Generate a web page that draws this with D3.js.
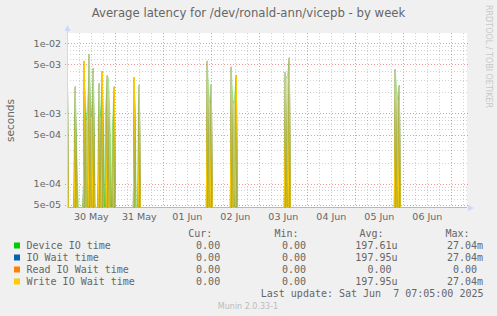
<!DOCTYPE html>
<html>
<head>
<meta charset="utf-8">
<script src="https://cdn.jsdelivr.net/npm/d3@7"></script>
<style>
  html, body { margin: 0; padding: 0; background: #f0f0f0; }
  svg { display: block; }
  text.pre { white-space: pre; }
</style>
</head>
<body>
<div id="chart"></div>
<script>
// Legend rows.
const seriesNames = ["Device IO time", "IO Wait time", "Read IO Wait time", "Write IO Wait time"];
const seriesColors = ["#00cc00", "#0066b3", "#ff8000", "#ffcc00"];
const curValues = [0, 0, 0, 0];
const minValues = [0, 0, 0, 0];
const avgValues = [197.61e-6, 197.95e-6, 0, 197.95e-6];
const maxValues = [27.04e-3, 27.04e-3, 0, 27.04e-3];

// 30 minute averages in seconds. Samples that are not listed are 0.
const writeWaitTimes = [
  "2025-05-30T00:00", "2025-05-30T04:00", "2025-05-30T08:30", "2025-05-30T11:00",
  "2025-05-30T13:00", "2025-05-30T16:00", "2025-05-30T17:30", "2025-05-30T20:00",
  "2025-05-30T23:30", "2025-05-31T09:30", "2025-05-31T12:00", "2025-06-01T22:00",
  "2025-06-02T00:00", "2025-06-02T10:00", "2025-06-02T12:30", "2025-06-03T13:00",
  "2025-06-03T15:00", "2025-06-05T20:00", "2025-06-05T22:00"
];
const writeWaitValues = [
  5.8e-3, 2.4e-3, 5.6e-3, 7.0e-3,
  4.4e-3, 2.7e-3, 4.0e-3, 3.45e-3,
  2.4e-3, 3.3e-3, 2.55e-3, 5.6e-3,
  2.6e-3, 4.6e-3, 3.5e-3, 3.9e-3,
  6.2e-3, 4.3e-3, 2.5e-3
];
const readWaitTimes = [];
const readWaitValues = [];

const deviceTimes = [
  "2025-05-30T00:00", "2025-05-30T03:30", "2025-05-30T04:00", "2025-05-30T04:30",
  "2025-05-30T05:00", "2025-05-30T08:00",
  "2025-05-30T08:30", "2025-05-30T09:00", "2025-05-30T09:30", "2025-05-30T10:00",
  "2025-05-30T10:30", "2025-05-30T11:00", "2025-05-30T11:30", "2025-05-30T12:00",
  "2025-05-30T12:30", "2025-05-30T13:00", "2025-05-30T13:30",
  "2025-05-30T15:30", "2025-05-30T16:00",
  "2025-05-30T16:30", "2025-05-30T17:00", "2025-05-30T17:30", "2025-05-30T18:00",
  "2025-05-30T19:00", "2025-05-30T19:30", "2025-05-30T20:00",
  "2025-05-30T20:30", "2025-05-30T21:00", "2025-05-30T21:30",
  "2025-05-30T22:30", "2025-05-30T23:00", "2025-05-30T23:30",
  "2025-05-31T09:30", "2025-05-31T10:00", "2025-05-31T11:30", "2025-05-31T12:00",
  "2025-06-01T22:00", "2025-06-01T22:30", "2025-06-01T23:00", "2025-06-01T23:30",
  "2025-06-02T00:00",
  "2025-06-02T10:00", "2025-06-02T10:30", "2025-06-02T11:00", "2025-06-02T11:30",
  "2025-06-02T12:00", "2025-06-02T12:30",
  "2025-06-03T13:00", "2025-06-03T13:30", "2025-06-03T14:00", "2025-06-03T14:30",
  "2025-06-03T15:00",
  "2025-06-05T20:00", "2025-06-05T20:30", "2025-06-05T21:00", "2025-06-05T21:30",
  "2025-06-05T22:00"
];
const deviceValues = [
  5.3e-3, 6e-4, 2.2e-3, 6e-4,
  1.5e-4, 8e-5,
  5.0e-3, 1.6e-3, 8e-4, 1.2e-3,
  2.4e-3, 6.6e-3, 2.0e-3, 9e-4,
  1.6e-3, 4.1e-3, 7e-4,
  8e-4, 2.5e-3,
  9e-4, 1.6e-3, 3.8e-3, 9e-4,
  1.0e-3, 2.0e-3, 3.2e-3,
  3.3e-3, 1.6e-3, 5e-4,
  6e-4, 1.4e-3, 2.3e-3,
  3.0e-3, 1.2e-3, 1.3e-3, 2.4e-3,
  5.0e-3, 2.8e-3, 1.6e-3, 1.4e-3,
  2.4e-3,
  4.2e-3, 2.2e-3, 1.4e-3, 1.6e-3,
  2.4e-3, 3.3e-3,
  3.6e-3, 3.2e-3, 3.4e-3, 4.6e-3,
  5.9e-3,
  4.0e-3, 2.6e-3, 1.8e-3, 1.6e-3,
  2.4e-3
];

// Axis labels.
const dayLabelTimes = [
  "2025-05-30T12:00", "2025-05-31T12:00", "2025-06-01T12:00", "2025-06-02T12:00",
  "2025-06-03T12:00", "2025-06-04T12:00", "2025-06-05T12:00", "2025-06-06T12:00"
];
const dayLabels = ["30 May", "31 May", "01 Jun", "02 Jun", "03 Jun", "04 Jun", "05 Jun", "06 Jun"];
const yTickValues = [1e-2, 5e-3, 1e-3, 5e-4, 1e-4, 5e-5];
const yTickLabels = ["1e-02", "5e-03", "1e-03", "5e-04", "1e-04", "5e-05"];

const title = "Average latency for /dev/ronald-ann/vicepb - by week";
const lastUpdate = "Last update: Sat Jun  7 07:05:00 2025";

/**
 * Layout.
 */
const width = 497;
const height = 316;
const plot = { left: 67, top: 33, right: 467, bottom: 208 };
const fontColor = "#666666";
const axisColor = "#cfd6f8";
const sans = "'DejaVu Sans', sans-serif";
const mono = "'DejaVu Sans Mono', monospace";

const parseTime = d3.utcParse("%Y-%m-%dT%H:%M");
const start = parseTime("2025-05-29T23:50");
const end = parseTime("2025-06-07T07:50");

const x = d3.scaleUtc().domain([start, end]).range([plot.left, plot.right]);
const y = d3.scaleLog().domain([4.5e-5, 1.4e-2]).range([plot.bottom, plot.top]);

const svg = d3.select("#chart")
  .append("svg")
  .attr("width", width)
  .attr("height", height)
  .style("background", "#f0f0f0");

// Plot canvas.
svg.append("rect")
  .attr("x", plot.left)
  .attr("y", plot.top)
  .attr("width", plot.right - plot.left)
  .attr("height", plot.bottom - plot.top)
  .attr("fill", "#ffffff");

svg.append("clipPath").attr("id", "plot-clip")
  .append("rect")
  .attr("x", plot.left)
  .attr("y", plot.top)
  .attr("width", plot.right - plot.left)
  .attr("height", plot.bottom - plot.top);

/**
 * Grid.
 */
const grid = svg.append("g").attr("shape-rendering", "crispEdges");
const minorColor = "rgba(140,140,140,0.38)";
const majorColor = "rgba(225,50,50,0.5)";

// Minor horizontal lines (2..9 in each decade, except 5).
const yMinor = y.ticks().filter((v) => {
  const m = Math.round(v / Math.pow(10, Math.floor(Math.log10(v) + 1e-9)));
  return m !== 1 && m !== 5;
});
grid.selectAll(".ymin").data(yMinor).join("line")
  .attr("x1", plot.left).attr("x2", plot.right)
  .attr("y1", (d) => Math.round(y(d)) + 0.5).attr("y2", (d) => Math.round(y(d)) + 0.5)
  .attr("stroke", minorColor).attr("stroke-dasharray", "1,2");

// Minor vertical lines every 6 hours.
const xMinor = d3.utcHour.every(6).range(start, end).filter((d) => d.getUTCHours() !== 0);
grid.selectAll(".xmin").data(xMinor).join("line")
  .attr("x1", (d) => Math.round(x(d)) + 0.5).attr("x2", (d) => Math.round(x(d)) + 0.5)
  .attr("y1", plot.top).attr("y2", plot.bottom)
  .attr("stroke", minorColor).attr("stroke-dasharray", "1,2");

// Major lines.
grid.selectAll(".ymaj").data(yTickValues).join("line")
  .attr("x1", plot.left - 2).attr("x2", plot.right + 2)
  .attr("y1", (d) => Math.round(y(d)) + 0.5).attr("y2", (d) => Math.round(y(d)) + 0.5)
  .attr("stroke", majorColor).attr("stroke-dasharray", "1,2");

const xMajor = d3.utcDay.range(start, end);
grid.selectAll(".xmaj").data(xMajor).join("line")
  .attr("x1", (d) => Math.round(x(d)) + 0.5).attr("x2", (d) => Math.round(x(d)) + 0.5)
  .attr("y1", plot.top).attr("y2", plot.bottom + 2)
  .attr("stroke", majorColor).attr("stroke-dasharray", "1,2");

/**
 * Data.
 */
// Every 30 minute slot of the graph; missing samples read as 0.
const slots = d3.utcMinute.every(30).range(parseTime("2025-05-29T23:30"), parseTime("2025-06-07T08:30"));
function toSeries(times, values) {
  const byTime = new Map(times.map((t, i) => [+parseTime(t), values[i]]));
  return slots.map((d) => ({ date: d, value: byTime.get(+d) || 0 }));
}
const yClamp = (v) => Math.min(y(Math.max(v, y.domain()[0])), plot.bottom - 0.5);

const deviceSeries = toSeries(deviceTimes, deviceValues);
const writeSeries = toSeries(writeWaitTimes, writeWaitValues);
const readSeries = toSeries(readWaitTimes, readWaitValues);

const defs = svg.append("defs");
const fillGrad = defs.append("linearGradient")
  .attr("id", "dev-fill")
  .attr("gradientUnits", "userSpaceOnUse")
  .attr("x1", 0).attr("x2", 0)
  .attr("y1", plot.bottom).attr("y2", plot.top + 20);
fillGrad.append("stop").attr("offset", 0).attr("stop-color", "#b2b830");
fillGrad.append("stop").attr("offset", 0.5).attr("stop-color", "#bccb5c");
fillGrad.append("stop").attr("offset", 1).attr("stop-color", "#e6f0da");

const data = svg.append("g").attr("clip-path", "url(#plot-clip)");

const area = d3.area()
  .x((d) => x(d.date))
  .y0(plot.bottom)
  .y1((d) => yClamp(d.value));
const line = d3.line()
  .x((d) => x(d.date))
  .y((d) => yClamp(d.value));

data.append("path")
  .attr("d", area(deviceSeries))
  .attr("fill", "url(#dev-fill)")
  .attr("fill-opacity", 0.9);

data.append("path")
  .attr("d", line(deviceSeries))
  .attr("fill", "none")
  .attr("stroke", seriesColors[0])
  .attr("stroke-opacity", 0.3)
  .attr("stroke-width", 1);

data.append("path")
  .attr("d", line(writeSeries))
  .attr("fill", "none")
  .attr("stroke", seriesColors[1])
  .attr("stroke-width", 1);

data.append("path")
  .attr("d", line(readSeries))
  .attr("fill", "none")
  .attr("stroke", seriesColors[2])
  .attr("stroke-width", 1);

data.append("path")
  .attr("d", line(writeSeries))
  .attr("fill", "none")
  .attr("stroke", seriesColors[3])
  .attr("stroke-width", 1);

/**
 * Axes.
 */
svg.append("line")
  .attr("x1", plot.left + 0.5).attr("x2", plot.left + 0.5)
  .attr("y1", plot.bottom).attr("y2", plot.top - 3)
  .attr("stroke", axisColor);
svg.append("path")
  .attr("d", `M${plot.left - 2.5},${plot.top - 2} L${plot.left + 3.5},${plot.top - 2} L${plot.left + 0.5},${plot.top - 8} Z`)
  .attr("fill", axisColor);
svg.append("path")
  .attr("d", `M${plot.right + 1},${plot.bottom - 3} L${plot.right + 1},${plot.bottom + 3} L${plot.right + 7},${plot.bottom} Z`)
  .attr("fill", axisColor);

// Y tick labels.
svg.selectAll(".ylab").data(yTickValues).join("text")
  .attr("x", plot.left - 6)
  .attr("y", (d) => y(d) + 3.5)
  .attr("text-anchor", "end")
  .attr("font-family", sans)
  .attr("font-size", 9.5)
  .attr("fill", fontColor)
  .text((d, i) => yTickLabels[i]);

// X tick labels.
svg.selectAll(".xlab").data(dayLabelTimes).join("text")
  .attr("x", (d) => x(parseTime(d)))
  .attr("y", plot.bottom + 12)
  .attr("text-anchor", "middle")
  .attr("font-family", sans)
  .attr("font-size", 9.5)
  .attr("fill", fontColor)
  .text((d, i) => dayLabels[i]);

// Vertical axis title.
svg.append("text")
  .attr("transform", `translate(14,${(plot.top + plot.bottom) / 2}) rotate(-90)`)
  .attr("text-anchor", "middle")
  .attr("font-family", sans)
  .attr("font-size", 10.5)
  .attr("fill", fontColor)
  .text("seconds");

// Title.
svg.append("text")
  .attr("x", width / 2)
  .attr("y", 17)
  .attr("text-anchor", "middle")
  .attr("font-family", sans)
  .attr("font-size", 11.7)
  .attr("fill", fontColor)
  .text(title);

// Watermark.
svg.append("text")
  .attr("transform", "translate(485.5,5) rotate(90)")
  .attr("font-family", sans)
  .attr("font-size", 8)
  .attr("fill", "#c8c8c8")
  .text("RRDTOOL / TOBI OETIKER");

/**
 * Legend.
 */
// Format like rrdtool "%6.2lf%s".
function formatSi(v) {
  if (v === 0) return "0.00\u00a0";
  const prefixes = { "-3": "m", "-6": "u", "-9": "n", "0": "\u00a0", "3": "k" };
  const e = Math.floor(Math.log10(Math.abs(v)) / 3) * 3;
  return (v / Math.pow(10, e)).toFixed(2) + prefixes[e];
}

const legend = svg.append("g")
  .attr("font-family", mono)
  .attr("font-size", 10)
  .attr("fill", fontColor);

const headers = ["Cur:", "Min:", "Avg:", "Max:"];
const headerEnds = [212.3, 298.5, 383.5, 469.5];
const columnEnds = [226.2, 312, 397.5, 483];
const columns = [curValues, minValues, avgValues, maxValues];

legend.selectAll(".hdr").data(headers).join("text")
  .attr("x", (d, i) => headerEnds[i])
  .attr("y", 237)
  .attr("text-anchor", "end")
  .text((d) => d);

seriesNames.forEach((name, i) => {
  const rowY = 249 + i * 12;
  legend.append("rect")
    .attr("x", 14).attr("y", rowY - 6.5)
    .attr("width", 6).attr("height", 6)
    .attr("fill", seriesColors[i]);
  legend.append("text")
    .attr("x", 26.5).attr("y", rowY)
    .text(name);
  columns.forEach((col, j) => {
    legend.append("text")
      .attr("x", columnEnds[j]).attr("y", rowY)
      .attr("text-anchor", "end")
      .text(formatSi(col[i]));
  });
});

legend.append("text")
  .attr("class", "pre")
  .attr("x", 483.5).attr("y", 297)
  .attr("text-anchor", "end")
  .text(lastUpdate.replace(/ /g, "\u00a0"));

svg.append("text")
  .attr("x", 248)
  .attr("y", 308.5)
  .attr("text-anchor", "middle")
  .attr("font-family", sans)
  .attr("font-size", 8)
  .attr("fill", "#bbbbbb")
  .text("Munin 2.0.33-1");
</script>
</body>
</html>
